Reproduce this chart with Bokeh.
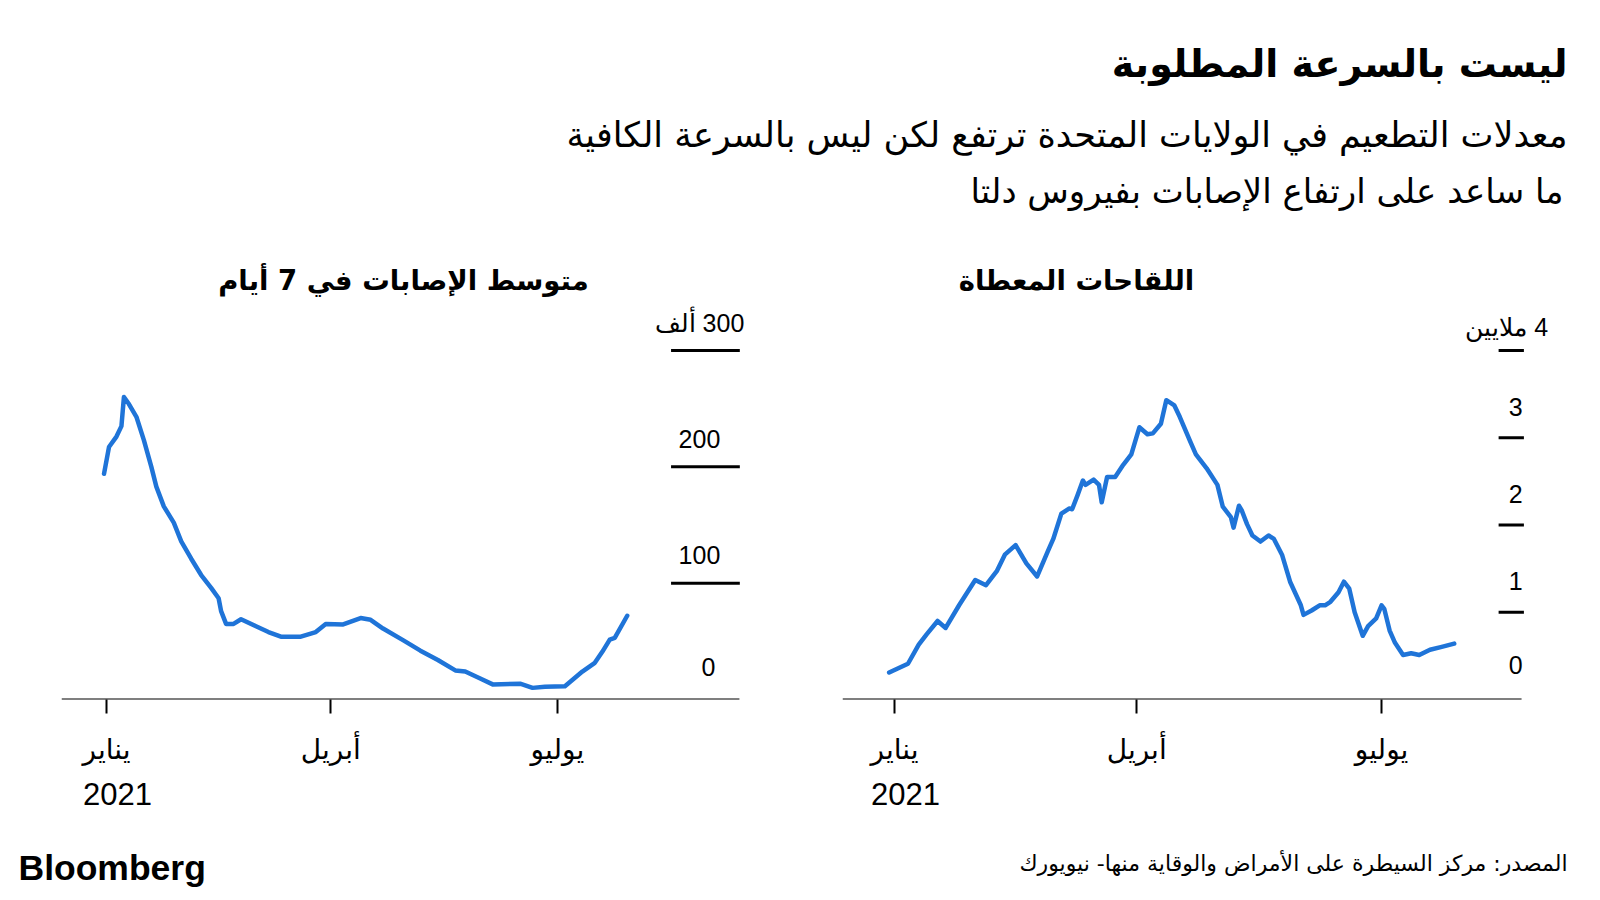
import pandas as pd
from bokeh.plotting import figure
from bokeh.models import (Range1d, FixedTicker, Label, LabelSet, ColumnDataSource,
                          DatetimeAxis)
from bokeh.layouts import column, row
from bokeh.core.properties import value
from bokeh.embed import file_html
from bokeh.resources import INLINE

# ---------------- texts ----------------
title_text = "ليست بالسرعة المطلوبة"
subtitle_1 = "معدلات التطعيم في الولايات المتحدة ترتفع لكن ليس بالسرعة الكافية"
subtitle_2 = "ما ساعد على ارتفاع الإصابات بفيروس دلتا"
cases_title = "متوسط الإصابات في 7 أيام"
vacc_title = "اللقاحات المعطاة"
source_text = "المصدر: مركز السيطرة على الأمراض والوقاية منها- نيويورك"
logo_text = "Bloomberg"

month_ticks = ["2021-01-01", "2021-04-01", "2021-07-01"]
month_labels = ["يناير", "أبريل", "يوليو"]
year_label = "2021"

RLM = "\u200f"  # right-to-left mark so "number + unit" reads right-to-left

# ---------------- data ----------------
# 7-day average of cases, thousands
cases_dates = ["2020-12-31", "2021-01-02", "2021-01-05", "2021-01-07", "2021-01-08",
               "2021-01-10", "2021-01-13", "2021-01-16", "2021-01-19", "2021-01-21",
               "2021-01-24", "2021-01-28", "2021-01-31", "2021-02-04", "2021-02-08",
               "2021-02-12", "2021-02-15", "2021-02-16", "2021-02-18", "2021-02-21",
               "2021-02-24", "2021-03-02", "2021-03-07", "2021-03-12", "2021-03-20",
               "2021-03-26", "2021-03-30", "2021-04-06", "2021-04-13", "2021-04-17",
               "2021-04-22", "2021-04-30", "2021-05-07", "2021-05-14", "2021-05-21",
               "2021-05-25", "2021-05-31", "2021-06-05", "2021-06-16", "2021-06-21",
               "2021-06-26", "2021-07-04", "2021-07-11", "2021-07-16", "2021-07-19",
               "2021-07-22", "2021-07-24", "2021-07-29"]
cases_values = [194, 217, 226, 235, 260,
                254, 243, 223, 200, 183,
                166, 152, 136, 121, 107,
                96, 87, 76, 65, 65,
                69, 63, 58, 54, 54,
                58, 65, 64.5, 70, 68.5,
                61, 51, 42, 34, 25,
                24, 18, 13, 13.6, 10,
                11, 11.4, 24, 31.5, 41,
                51.5, 53, 72]
cases_ticks = [0, 100, 200, 300]
cases_tick_labels = ["0", "100", "200", RLM + "300 ألف"]

# vaccine doses administered, millions
vacc_dates = ["2020-12-30", "2021-01-06", "2021-01-10", "2021-01-13", "2021-01-17",
              "2021-01-20", "2021-01-25", "2021-01-31", "2021-02-04", "2021-02-08",
              "2021-02-11", "2021-02-15", "2021-02-19", "2021-02-23", "2021-02-27",
              "2021-03-01", "2021-03-04", "2021-03-07", "2021-03-08", "2021-03-10",
              "2021-03-12", "2021-03-13", "2021-03-16", "2021-03-18", "2021-03-19",
              "2021-03-21", "2021-03-24", "2021-03-27", "2021-03-30", "2021-04-02",
              "2021-04-05", "2021-04-07", "2021-04-10", "2021-04-12", "2021-04-15",
              "2021-04-17", "2021-04-21", "2021-04-23", "2021-04-27", "2021-05-01",
              "2021-05-03", "2021-05-06", "2021-05-07", "2021-05-09", "2021-05-10",
              "2021-05-12", "2021-05-14", "2021-05-17", "2021-05-20", "2021-05-22",
              "2021-05-25", "2021-05-28", "2021-06-01", "2021-06-02", "2021-06-05",
              "2021-06-08", "2021-06-10", "2021-06-12", "2021-06-15", "2021-06-17",
              "2021-06-19", "2021-06-21", "2021-06-24", "2021-06-26", "2021-06-29",
              "2021-07-01", "2021-07-02", "2021-07-04", "2021-07-06", "2021-07-09",
              "2021-07-12", "2021-07-15", "2021-07-19", "2021-07-23", "2021-07-28"]
vacc_values = [0.31, 0.41, 0.63, 0.75, 0.90,
               0.82, 1.08, 1.37, 1.31, 1.47,
               1.66, 1.77, 1.56, 1.41, 1.70,
               1.84, 2.13, 2.19, 2.18, 2.34,
               2.51, 2.46, 2.52, 2.46, 2.26,
               2.55, 2.55, 2.69, 2.81, 3.12,
               3.04, 3.05, 3.16, 3.43, 3.37,
               3.24, 2.95, 2.81, 2.65, 2.46,
               2.21, 2.09, 1.97, 2.22, 2.17,
               2.01, 1.88, 1.81, 1.88, 1.84,
               1.66, 1.35, 1.08, 0.97, 1.02,
               1.08, 1.08, 1.12, 1.23, 1.35,
               1.27, 1.00, 0.73, 0.84, 0.93,
               1.08, 1.04, 0.79, 0.65, 0.51,
               0.53, 0.51, 0.57, 0.60, 0.64]
vacc_ticks = [0, 1, 2, 3, 4]
vacc_tick_labels = ["0", "1", "2", "3", RLM + "4 ملايين"]

# ---------------- styling ----------------
LINE_COLOR = "#1f74d8"
AR_FONT = "DejaVu Sans"
NUM_FONT = "Liberation Sans"

JAN1 = pd.Timestamp("2021-01-01")


def ms_of(ts):
    return pd.Timestamp(ts).value / 1e6


def day_ms(d):
    return ms_of(JAN1 + pd.Timedelta(days=d))


def make_chart(dates, values, ticks, labels, width, border_left, border_right,
               x0_day, x1_day, base_end_day, y_end, grid_x0_day, grid_x1_day,
               year_day, lab_specs):
    p = figure(width=width, height=530, output_backend="svg", toolbar_location=None,
               x_axis_type="datetime", y_axis_location=None,
               x_range=Range1d(day_ms(x0_day), day_ms(x1_day)),
               y_range=Range1d(0, y_end),
               min_border_left=border_left, min_border_right=border_right,
               min_border_top=0, min_border_bottom=131)
    p.outline_line_color = None
    p.grid.grid_line_color = None
    p.background_fill_color = "white"
    p.border_fill_color = "white"

    # x axis (month ticks)
    tick_ms = [ms_of(t) for t in month_ticks]
    ax = p.xaxis[0]
    ax.ticker = FixedTicker(ticks=tick_ms)
    ax.major_label_overrides = {t: lab for t, lab in zip(tick_ms, month_labels)}
    ax.axis_line_color = None
    ax.major_tick_line_color = "black"
    ax.major_tick_line_width = 2
    ax.major_tick_out = 14
    ax.major_tick_in = 0
    ax.minor_tick_line_color = None
    ax.major_label_text_font = AR_FONT
    ax.major_label_text_font_size = "28px"
    ax.major_label_text_color = "black"
    ax.major_label_standoff = 19

    # year label as a second row of the axis
    ym = day_ms(year_day)
    ax2 = DatetimeAxis(ticker=FixedTicker(ticks=[ym]),
                       major_label_overrides={ym: year_label},
                       axis_line_color=None, major_tick_line_color=None,
                       minor_tick_line_color=None, major_tick_out=0, major_tick_in=0,
                       major_label_text_font=NUM_FONT,
                       major_label_text_font_size="31px",
                       major_label_text_color="black", major_label_standoff=14)
    p.add_layout(ax2, "below")

    # baseline
    p.segment(x0=[day_ms(x0_day)], x1=[day_ms(base_end_day)], y0=[ticks[0]],
              y1=[ticks[0]], line_color="black", line_width=2)

    # short grid segments on the right
    gy = ticks[1:]
    p.segment(x0=[day_ms(grid_x0_day)] * len(gy), x1=[day_ms(grid_x1_day)] * len(gy),
              y0=gy, y1=gy, line_color="black", line_width=3)

    # data line
    src = ColumnDataSource(dict(x=[ms_of(d) for d in dates], y=values))
    p.line("x", "y", source=src, line_color=LINE_COLOR, line_width=4.5,
           line_join="round", line_cap="round")

    # tick labels
    for idxs, lx_day, align, yoff in lab_specs:
        ls_src = ColumnDataSource(dict(x=[day_ms(lx_day)] * len(idxs),
                                       y=[ticks[i] for i in idxs],
                                       text=[labels[i] for i in idxs]))
        p.add_layout(LabelSet(x="x", y="y", text="text", source=ls_src,
                              text_align=align, text_baseline="middle",
                              y_offset=yoff, text_font=value(NUM_FONT),
                              text_font_size="25px", text_color="black"))
    return p


# left chart: Jan 1 at x=106 px, 2.4917 px/day; frame 61..760
left = make_chart(cases_dates, cases_values, cases_ticks, cases_tick_labels,
                  width=800, border_left=61, border_right=40,
                  x0_day=-18.06, x1_day=262.5, base_end_day=254.04,
                  y_end=399 / 349 * 300, grid_x0_day=226.6, grid_x1_day=254.2,
                  year_day=4.4,
                  lab_specs=[([1, 2, 3], 238.0, "center", 28),
                             ([0], 241.6, "center", 33)])

# right chart: Jan 1 at x=894 px, 2.6906 px/day; frame 842..1560
right = make_chart(vacc_dates, vacc_values, vacc_ticks, vacc_tick_labels,
                   width=800, border_left=42, border_right=40,
                   x0_day=-19.33, x1_day=247.5, base_end_day=233.03,
                   y_end=399 / 349 * 4, grid_x0_day=224.5, grid_x1_day=233.9,
                   year_day=4.1,
                   lab_specs=[([1, 2, 3], 233.4, "right", 31),
                              ([0], 233.4, "right", 35),
                              ([4], 227.5, "center", 24)])

# ---------------- header ----------------
header = figure(width=1600, height=300, output_backend="svg", toolbar_location=None,
                x_range=Range1d(0, 1600), y_range=Range1d(300, 0),
                x_axis_location=None, y_axis_location=None,
                min_border=0, min_border_left=0, min_border_right=0,
                min_border_top=0, min_border_bottom=0)
header.outline_line_color = None
header.grid.grid_line_color = None


def add_text(fig, x, y, txt, size, align, bold=False, font=AR_FONT):
    fig.add_layout(Label(x=x, y=y, text=txt, text_align=align, text_baseline="middle",
                         text_font=font, text_font_size=size,
                         text_font_style="bold" if bold else "normal",
                         text_color="black"))


add_text(header, 1567, 63, title_text, "38px", "right", bold=True)
add_text(header, 1567, 134, subtitle_1, "35px", "right")
add_text(header, 1563, 190, subtitle_2, "34px", "right")
add_text(header, 403, 279, cases_title, "27.5px", "center", bold=True)
add_text(header, 1076, 279, vacc_title, "27.5px", "center", bold=True)

# ---------------- footer ----------------
footer = figure(width=1600, height=62, output_backend="svg", toolbar_location=None,
                x_range=Range1d(0, 1600), y_range=Range1d(62, 0),
                x_axis_location=None, y_axis_location=None,
                min_border=0, min_border_left=0, min_border_right=0,
                min_border_top=0, min_border_bottom=0)
footer.outline_line_color = None
footer.grid.grid_line_color = None
add_text(footer, 18, 37, logo_text, "35.5px", "left", bold=True, font="Liberation Sans")
add_text(footer, 1567, 33, source_text, "22px", "right")

layout = column(header, row(left, right), footer)
open("out.html", "w").write(file_html(layout, INLINE))
